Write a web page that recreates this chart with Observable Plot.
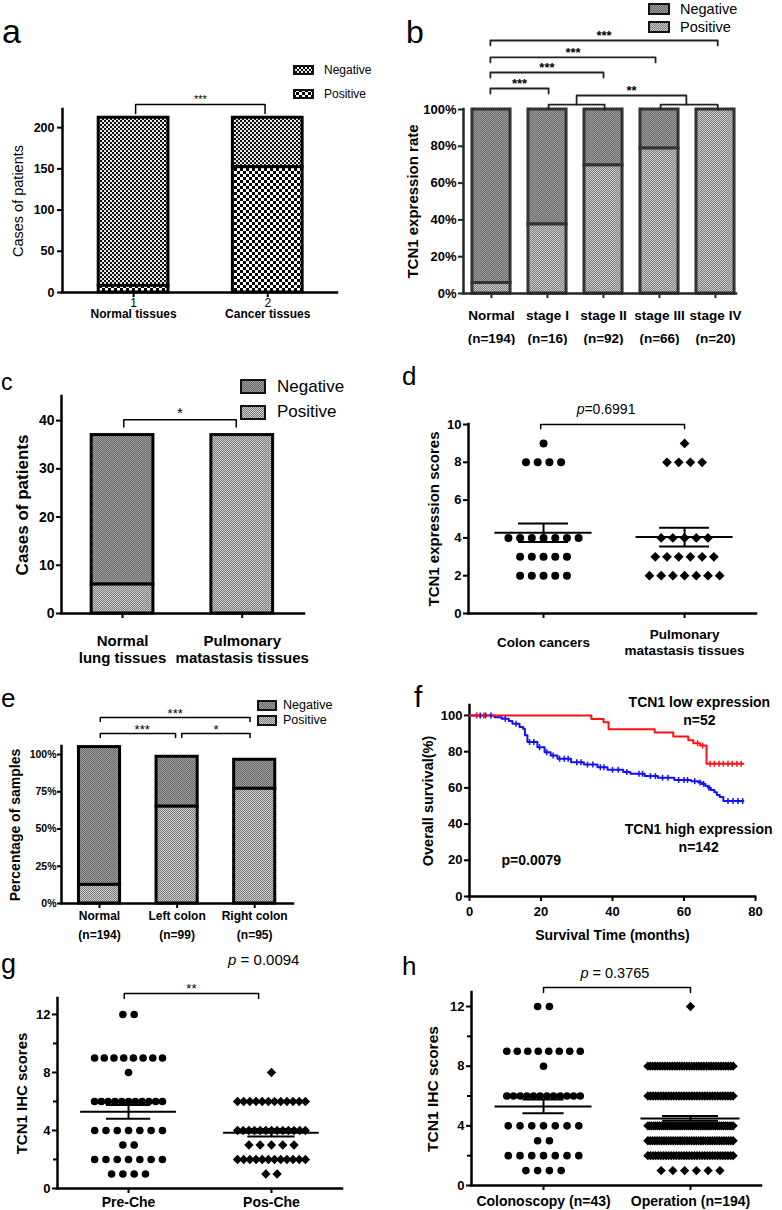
<!DOCTYPE html>
<html><head><meta charset="utf-8">
<script src="https://cdn.jsdelivr.net/npm/d3@7"></script>
<script src="https://cdn.jsdelivr.net/npm/@observablehq/plot@0.6"></script>
<style>
body{margin:0;background:#fff;}
#fig{position:relative;width:782px;height:1210px;overflow:hidden;background:#fff;font-family:"Liberation Sans",Arial,Helvetica,sans-serif;}
.panel{position:absolute;}
.letter{position:absolute;line-height:1;color:#000;font-family:"Liberation Sans",Arial,Helvetica,sans-serif;}
.leg{position:absolute;display:flex;align-items:center;white-space:nowrap;color:#000;font-family:"Liberation Sans",Arial,Helvetica,sans-serif;}
.leg svg{display:block;}
</style></head><body>
<svg width="0" height="0" style="position:absolute">
<defs>
<pattern id="aNeg" patternUnits="userSpaceOnUse" width="4" height="4"><rect width="4" height="4" fill="#e8e8e8"/><rect width="2" height="2" fill="#111"/><rect x="2" y="2" width="2" height="2" fill="#111"/></pattern>
<pattern id="aPos" patternUnits="userSpaceOnUse" width="6" height="6"><rect width="6" height="6" fill="#fff"/><rect width="3" height="3" fill="#000"/><rect x="3" y="3" width="3" height="3" fill="#000"/></pattern>
<pattern id="gNeg" patternUnits="userSpaceOnUse" width="2" height="2"><rect width="2" height="2" fill="#9e9e9e"/><rect width="1" height="1" fill="#6a6a6a"/><rect x="1" y="1" width="1" height="1" fill="#6a6a6a"/></pattern>
<pattern id="gPos" patternUnits="userSpaceOnUse" width="2" height="2"><rect width="2" height="2" fill="#cdcdcd"/><rect width="1" height="1" fill="#7a7a7a"/><rect x="1" y="1" width="1" height="1" fill="#7a7a7a"/></pattern>
</defs></svg>
<div id="fig"></div>
<script>
// ---------------- DATA ----------------
// a
const aCategories = ["Normal tissues", "Cancer tissues"];
const aTickLabels = ["1", "2"];
const aPositive = [8, 152];
const aNegative = [204, 60];
// b
const bCategories = ["Normal", "stage I", "stage II", "stage III", "stage IV"];
const bCounts = ["(n=194)", "(n=16)", "(n=92)", "(n=66)", "(n=20)"];
const bPositive = [5.7, 37.5, 69.6, 78.8, 100];
const bNegative = [94.3, 62.5, 30.4, 21.2, 0];
const bYTicks = [0, 20, 40, 60, 80, 100];
// c
const cCategories = ["Normal\nlung tissues", "Pulmonary\nmatastasis tissues"];
const cPositive = [6, 37];
const cNegative = [31, 0];
const cYTicks = [0, 10, 20, 30, 40];
// d  ([score, number of samples])
const dCategories = ["Colon cancers", "Pulmonary\nmatastasis tissues"];
const dColonCounts = [[9, 1], [8, 4], [4, 7], [3, 5], [2, 5]];
const dPulmonaryCounts = [[9, 1], [8, 4], [4, 5], [3, 6], [2, 7]];
const dYTicks = [0, 2, 4, 6, 8, 10];
// e
const eCategories = ["Normal\n(n=194)", "Left colon\n(n=99)", "Right colon\n(n=95)"];
const ePositive = [12.5, 65, 77];
const eNegative = [92.5, 33.5, 19.5];
const eYTicks = [0, 25, 50, 75, 100];
// f  ([months, survival %])
const fLowCurve = [[0,100],[34.1,98.1],[37.5,96.2],[38.9,92.4],[51.8,90.6],[57,88.4],[61.2,86.3],[62.6,84.6],[64.5,83.4],[66.3,73.3],[76.6,73.3]];
const fHighCurve = [[0,100],[7,99],[9,98.2],[11,96.9],[12,95.4],[14,93.6],[15,92.6],[15.5,89],[16.2,85.3],[19,82.5],[21,79.7],[22.7,77.9],[24.6,76.1],[28.4,74.2],[32,72.9],[35.8,71.4],[38.6,70],[43,68.7],[45,67.8],[49,66.5],[52.7,65.6],[57.3,64.4],[62,63.7],[64,62.9],[65,62.2],[66,61],[66.7,60],[67.5,58.8],[68.5,57.6],[69.2,56],[70,54.9],[71,52.7],[76.6,52.7]];
const fLowCensored = [2, 4, 63.8, 65.2, 67.3, 68.5, 69.8, 71, 72.3, 73.5, 74.8, 76];
const fHighCensored = [3, 4.5, 6, 10, 13, 16.8, 18, 19.6, 21.6, 23.4, 25.2, 26.5, 27.6, 30, 31.2, 33, 34.5, 36.6, 37.6, 40, 41.6, 44, 47.4, 48.4, 50.6, 52, 54, 55.5, 58.5, 60, 61, 63, 64.5, 65.5, 67, 72.3, 73.7, 75.1, 76.4];
const fXTicks = [0, 20, 40, 60, 80];
const fYTicks = [0, 20, 40, 60, 80, 100];
// g
const gCategories = ["Pre-Che", "Pos-Che"];
const gPreCounts = [[12, 2], [9, 8], [8, 1], [6, 11], [4, 7], [3, 2], [2, 7], [1, 4]];
const gPosCounts = [[8, 1], [6, 12], [4, 13], [3, 5], [2, 12], [1, 2]];
// h
const hCategories = ["Colonoscopy (n=43)", "Operation (n=194)"];
const hColonoscopyCounts = [[12, 2], [9, 8], [8, 1], [6, 12], [4, 7], [3, 2], [2, 7], [1, 4]];
const hOperationCounts = [[12, 1], [8, 36], [6, 34], [4, 45], [3, 38], [2, 34], [1, 6]];
const ghYTicks = [0, 4, 8, 12];
const ghMinorTicks = [2, 6, 10];

// ---------------- HELPERS ----------------
const FONT = '"Liberation Sans", Arial, Helvetica, sans-serif';
const fig = document.getElementById("fig");

function place(el, left, top) {
  const d = document.createElement("div");
  d.className = "panel";
  d.style.left = left + "px"; d.style.top = top + "px";
  d.appendChild(el); fig.appendChild(d);
}
function panel({left, top, width, height, frame, xDomain, yDomain, marks}) {
  const [L, R, T, B] = frame;
  const p = Plot.plot({
    width, height,
    marginLeft: L - left, marginRight: left + width - R,
    marginTop: T - top, marginBottom: top + height - B,
    x: {type: "linear", domain: xDomain},
    y: {type: "linear", domain: yDomain},
    style: {fontFamily: FONT, fontSize: "12px", color: "#000", background: "#fff", overflow: "visible"},
    marks
  });
  place(p, left, top);
}
function axisLines(xDomain, yTop, sw, color) {
  return [
    Plot.ruleX([xDomain[0]], {y1: 0, y2: yTop, stroke: color, strokeWidth: sw, strokeLinecap: "square"}),
    Plot.ruleY([0], {x1: xDomain[0], x2: xDomain[1], stroke: color, strokeWidth: sw, strokeLinecap: "square"})
  ];
}
function stackedBars(pos, neg, half, fillPos, fillNeg, stroke, sw) {
  const rows = pos.map((p, i) => ({i: i + 1, pos: p, tot: p + neg[i]}));
  return [
    Plot.rect(rows.filter(d => d.tot > d.pos), {x1: d => d.i - half, x2: d => d.i + half, y1: d => d.pos, y2: d => d.tot, fill: fillNeg, stroke, strokeWidth: sw}),
    Plot.rect(rows.filter(d => d.pos > 0), {x1: d => d.i - half, x2: d => d.i + half, y1: 0, y2: d => d.pos, fill: fillPos, stroke, strokeWidth: sw})
  ];
}
function brackets(list, {stroke = "#000", sw = 1.5, fontSize = 12, fontWeight = "normal", dy = -5} = {}) {
  const pts = list.flatMap((b, k) => [
    {k, x: b.x1, y: b.e1}, {k, x: b.x1, y: b.y}, {k, x: b.x2, y: b.y}, {k, x: b.x2, y: b.e2}
  ]);
  return [
    Plot.line(pts, {x: "x", y: "y", z: "k", stroke, strokeWidth: sw, curve: "linear"}),
    Plot.text(list.filter(b => b.label), {x: b => b.lx ?? (b.x1 + b.x2) / 2, y: "y", text: "label", lineAnchor: "middle", dy, fontSize, fontWeight, fill: "#000"})
  ];
}
function pLabel(x, y, rest, fontSize) {
  return [
    Plot.text([{x, y}], {x: "x", y: "y", text: () => "p", textAnchor: "end", lineAnchor: "middle", fontStyle: "italic", fontSize, fill: "#000"}),
    Plot.text([{x, y}], {x: "x", y: "y", text: () => rest, textAnchor: "start", lineAnchor: "middle", fontSize, fill: "#000"})
  ];
}
function yTitle(title, dx, fontSize, fontWeight) {
  return Plot.text([title], {text: d => d, frameAnchor: "left", dx, rotate: -90, lineAnchor: "middle", textAnchor: "middle", fontSize, fontWeight, fill: "#000"});
}
function xCatLabels(cats, dy, fontSize, fontWeight, lineHeight) {
  return Plot.text(cats, {x: (d, i) => i + 1, text: d => d, frameAnchor: "bottom", dy, lineAnchor: "middle", fontSize, fontWeight, lineHeight, fill: "#000"});
}
function xTicks(n, sw, color) {
  return Plot.axisX({ticks: d3.range(1, n + 1), tickFormat: () => "", tickSize: 5, stroke: color, strokeWidth: sw, label: null});
}
function expand(counts) { const v = []; for (const [val, n] of counts) for (let k = 0; k < n; k++) v.push(val); return v; }
function swarm(counts, gx, spacing, maxWidth) {
  const out = [];
  for (const [v, n] of counts) {
    const s = n > 1 ? Math.min(spacing, maxWidth / (n - 1)) : 0;
    for (let k = 0; k < n; k++) out.push({x: gx + (k - (n - 1) / 2) * s, y: v});
  }
  return out;
}
function meanSem(counts, gx, halfLine, halfCap, sw) {
  const vals = expand(counts);
  const s = [{gx, m: d3.mean(vals), sem: d3.deviation(vals) / Math.sqrt(vals.length)}];
  const o = {stroke: "#000", strokeWidth: sw};
  return [
    Plot.ruleY(s, {y: "m", x1: d => d.gx - halfLine, x2: d => d.gx + halfLine, ...o}),
    Plot.ruleX(s, {x: "gx", y1: d => d.m - d.sem, y2: d => d.m + d.sem, ...o}),
    Plot.ruleY(s, {y: d => d.m + d.sem, x1: d => d.gx - halfCap, x2: d => d.gx + halfCap, ...o}),
    Plot.ruleY(s, {y: d => d.m - d.sem, x1: d => d.gx - halfCap, x2: d => d.gx + halfCap, ...o})
  ];
}
function survAt(curve, t) { let s = curve[0][1]; for (const [tt, v] of curve) if (tt <= t) s = v; return s; }
const censorSymbol = {draw(ctx, size) { const h = Math.sqrt(size / Math.PI); ctx.moveTo(0, -h); ctx.lineTo(0, h); }};
function letter(ch, left, top, size) {
  const d = document.createElement("div"); d.className = "letter";
  d.style.left = left + "px"; d.style.top = top + "px"; d.style.fontSize = size + "px";
  d.textContent = ch; fig.appendChild(d);
}
function legend(items, x, y0, gap, sw, sh, fontSize, textGap) {
  items.forEach(([label, pat], k) => {
    const d = document.createElement("div"); d.className = "leg";
    const cy = y0 + k * gap, hh = Math.max(sh, fontSize * 1.2);
    d.style.left = x + "px"; d.style.top = (cy - hh / 2) + "px"; d.style.height = hh + "px";
    d.style.fontSize = fontSize + "px";
    d.innerHTML = `<svg width="${sw}" height="${sh}"><rect x="1" y="1" width="${sw - 2}" height="${sh - 2}" fill="url(#${pat})" stroke="#111" stroke-width="2"/></svg><span style="margin-left:${textGap}px">${label}</span>`;
    fig.appendChild(d);
  });
}

// ---------------- PANEL a ----------------
{
  const xd = [0.47, 2.52];
  panel({left: 0, top: 0, width: 391, height: 330, frame: [62, 337, 109, 292], xDomain: xd, yDomain: [0, 222], marks: [
    ...stackedBars(aPositive, aNegative, 0.26, "url(#aPos)", "url(#aNeg)", "#000", 3),
    ...axisLines(xd, 222, 2.5, "#000"),
    Plot.axisY({ticks: [0, 50, 100, 150, 200], tickSize: 5, tickPadding: 3, fontWeight: "bold", fontSize: 12.5, strokeWidth: 2, label: null}),
    Plot.axisX({ticks: [1, 2], tickFormat: i => aTickLabels[i - 1], tickSize: 5, tickPadding: 1, fontSize: 12, strokeWidth: 2, label: null}),
    xCatLabels(aCategories, 20.5, 12, "bold", 1.2),
    yTitle("Cases of patients", -44, 14.5, "normal"),
    ...brackets([{x1: 1.015, x2: 1.98, y: 228, e1: 217, e2: 217, label: "***"}], {fontSize: 11, dy: -5})
  ]});
  letter("a", 2, 14, 34);
  legend([["Negative", "aNeg"], ["Positive", "aPos"]], 293, 70, 24, 21, 10, 12, 10);
}

// ---------------- PANEL b ----------------
{
  const xd = [0.5, 5.375];
  const col = "#262626";
  panel({left: 391, top: 0, width: 391, height: 345, frame: [463, 736, 109, 293], xDomain: xd, yDomain: [0, 100], marks: [
    ...stackedBars(bPositive, bNegative, 0.34, "url(#gPos)", "url(#gNeg)", "#333", 3),
    ...axisLines(xd, 100, 2.5, col),
    Plot.axisY({ticks: bYTicks, tickFormat: d => d + "%", tickSize: 5, tickPadding: 2, fontWeight: "bold", fontSize: 13, strokeWidth: 2, stroke: col, label: null}),
    xTicks(5, 2, col),
    xCatLabels(bCategories.map((c, i) => c + "\n" + bCounts[i]), 30.5, 13.5, "bold", 1.75),
    yTitle("TCN1 expression rate", -50, 15, "bold"),
    ...brackets([
      {x1: 0.98, x2: 2.02, y: 111.4, e1: 108.7, e2: 108.7, label: "***"},
      {x1: 0.98, x2: 3.0, y: 120.1, e1: 117.4, e2: 117.4, label: "***"},
      {x1: 0.98, x2: 3.93, y: 128.3, e1: 125.6, e2: 125.6, label: "***"},
      {x1: 0.98, x2: 5.04, y: 137.5, e1: 134.8, e2: 134.8, label: "***"},
      {x1: 2.02, x2: 3.02, y: 102.7, e1: 100, e2: 100, label: ""},
      {x1: 4.02, x2: 5.04, y: 102.7, e1: 100, e2: 100, label: ""},
      {x1: 2.52, x2: 4.48, y: 107.6, e1: 102.7, e2: 102.7, label: "**", lx: 3.5}
    ], {stroke: "#222", sw: 1.8, fontSize: 13, fontWeight: "bold", dy: -5})
  ]});
  letter("b", 406, 16, 32);
  legend([["Negative", "gNeg"], ["Positive", "gPos"]], 648, 8.5, 18.5, 22, 12, 14.5, 10);
}

// ---------------- PANEL c ----------------
{
  const xd = [0.49, 2.52];
  panel({left: 0, top: 345, width: 391, height: 325, frame: [61, 304, 396, 613], xDomain: xd, yDomain: [0, 45], marks: [
    ...stackedBars(cPositive, cNegative, 0.258, "url(#gPos)", "url(#gNeg)", "#000", 3),
    ...axisLines(xd, 45, 2.5, "#000"),
    Plot.axisY({ticks: cYTicks, tickSize: 5, tickPadding: 2, fontWeight: "bold", fontSize: 14, strokeWidth: 2, label: null}),
    xTicks(2, 2, "#000"),
    xCatLabels(cCategories, 35.5, 15, "bold", 1.15),
    yTitle("Cases of patients", -39, 17, "bold"),
    ...brackets([{x1: 1.01, x2: 1.95, y: 40.2, e1: 38.7, e2: 38.7, label: "*"}], {fontSize: 15, dy: -6})
  ]});
  letter("c", 1, 371, 23);
  legend([["Negative", "gNeg"], ["Positive", "gPos"]], 240, 387, 25.5, 26, 15, 17, 11);
}

// ---------------- PANEL d ----------------
{
  const xd = [0.468, 2.51];
  panel({left: 391, top: 345, width: 391, height: 325, frame: [468, 756, 424, 613], xDomain: xd, yDomain: [0, 10], marks: [
    ...axisLines(xd, 10, 2.5, "#000"),
    Plot.axisY({ticks: dYTicks, tickSize: 5, tickPadding: 2, fontWeight: "bold", fontSize: 13, strokeWidth: 2, label: null}),
    xTicks(2, 2, "#000"),
    xCatLabels(dCategories, 28, 13.5, "bold", 1.2),
    yTitle("TCN1 expression scores", -34, 15, "bold"),
    Plot.dot(swarm(dColonCounts, 1, 0.083, 2), {x: "x", y: "y", r: 4, fill: "#000", symbol: "circle"}),
    Plot.dot(swarm(dPulmonaryCounts, 2, 0.083, 2), {x: "x", y: "y", r: 4.4, fill: "#000", symbol: "diamond2"}),
    ...meanSem(dColonCounts, 1, 0.344, 0.177, 2),
    ...meanSem(dPulmonaryCounts, 2, 0.344, 0.177, 2),
    ...brackets([{x1: 0.98, x2: 2.0, y: 10, e1: 9.78, e2: 9.78, label: ""}], {sw: 1.5}),
    ...pLabel(1.29, 10.8, "=0.6991", 14)
  ]});
  letter("d", 402, 363, 26);
}

// ---------------- PANEL e ----------------
{
  const xd = [0.51, 3.5];
  panel({left: 0, top: 670, width: 391, height: 280, frame: [61, 293, 746, 903], xDomain: xd, yDomain: [0, 105.4], marks: [
    ...stackedBars(ePositive, eNegative, 0.265, "url(#gPos)", "url(#gNeg)", "#000", 3),
    ...axisLines(xd, 105.4, 2.5, "#000"),
    Plot.axisY({ticks: eYTicks, tickFormat: d => d + "%", tickSize: 4, tickPadding: 1, fontWeight: "bold", fontSize: 10.5, strokeWidth: 2, label: null}),
    xTicks(3, 2, "#000"),
    xCatLabels(eCategories, 19.5, 12, "bold", 1.6),
    yTitle("Percentage of samples", -46, 14, "bold"),
    ...brackets([
      {x1: 1.01, x2: 2.94, y: 124.8, e1: 122.1, e2: 122.1, label: "***"},
      {x1: 1.01, x2: 1.98, y: 114.1, e1: 111.4, e2: 111.4, label: "***", lx: 1.55},
      {x1: 2.06, x2: 2.94, y: 114.1, e1: 111.4, e2: 111.4, label: "*", lx: 2.5}
    ], {fontSize: 13, dy: -4})
  ]});
  letter("e", 1, 685, 26);
  legend([["Negative", "gNeg"], ["Positive", "gPos"]], 257, 705, 15, 20, 11, 12.5, 6);
}

// ---------------- PANEL f ----------------
{
  const xd = [0, 80];
  const lowC = fLowCensored.map(t => ({t, s: survAt(fLowCurve, t)}));
  const highC = fHighCensored.map(t => ({t, s: survAt(fHighCurve, t)}));
  panel({left: 391, top: 670, width: 391, height: 280, frame: [469, 755, 705, 896], xDomain: xd, yDomain: [0, 105.5], marks: [
    ...axisLines(xd, 105.5, 2.5, "#000"),
    Plot.axisY({ticks: fYTicks, tickSize: 5, tickPadding: 2, fontWeight: "bold", fontSize: 13, strokeWidth: 2, label: null}),
    Plot.axisX({ticks: fXTicks, tickSize: 5, tickPadding: 5, fontWeight: "bold", fontSize: 13, strokeWidth: 2, label: null}),
    Plot.text(["Survival Time (months)"], {text: d => d, frameAnchor: "bottom", dy: 39, lineAnchor: "middle", fontSize: 14, fontWeight: "bold", fill: "#000"}),
    yTitle("Overall survival(%)", -41, 14.5, "bold"),
    Plot.line(fHighCurve, {x: d => d[0], y: d => d[1], curve: "step-after", stroke: "#1010ff", strokeWidth: 2}),
    Plot.line(fLowCurve, {x: d => d[0], y: d => d[1], curve: "step-after", stroke: "#ff1010", strokeWidth: 2}),
    Plot.dot(highC, {x: "t", y: "s", r: 3, symbol: censorSymbol, stroke: "#1010ff", strokeWidth: 1.5, fill: "none"}),
    Plot.dot(lowC, {x: "t", y: "s", r: 3, symbol: censorSymbol, stroke: "#ff1010", strokeWidth: 1.5, fill: "none"}),
    Plot.text([{x: 64.3, y: 107.2, t: "TCN1 low expression"}, {x: 64.3, y: 97.2, t: "n=52"}, {x: 64.1, y: 37, t: "TCN1 high expression"}, {x: 64.1, y: 27.1, t: "n=142"}, {x: 17.3, y: 19.9, t: "p=0.0079"}],
      {x: "x", y: "y", text: "t", lineAnchor: "middle", fontSize: 14, fontWeight: "bold", fill: "#000"})
  ]});
  letter("f", 414, 682, 30);
}

// ---------------- PANEL g ----------------
{
  const xd = [0.503, 2.497];
  panel({left: 0, top: 950, width: 391, height: 260, frame: [57, 342, 998, 1188], xDomain: xd, yDomain: [0, 13.1], marks: [
    ...axisLines(xd, 13.1, 2.5, "#000"),
    Plot.axisY({ticks: ghYTicks, tickSize: 5, tickPadding: 2, fontWeight: "bold", fontSize: 13, strokeWidth: 2, label: null}),
    Plot.axisY({ticks: ghMinorTicks, tickFormat: () => "", tickSize: 4, strokeWidth: 2, label: null}),
    xTicks(2, 2, "#000"),
    xCatLabels(gCategories, 13.5, 14, "bold", 1.2),
    yTitle("TCN1 IHC scores", -35, 15, "bold"),
    Plot.dot(swarm(gPreCounts, 1, 0.079, 0.475), {x: "x", y: "y", r: 3.8, fill: "#000", symbol: "circle"}),
    Plot.dot(swarm(gPosCounts, 2, 0.079, 0.475), {x: "x", y: "y", r: 4.2, fill: "#000", symbol: "diamond2"}),
    ...meanSem(gPreCounts, 1, 0.335, 0.155, 2),
    ...meanSem(gPosCounts, 2, 0.335, 0.165, 2),
    ...brackets([{x1: 0.97, x2: 1.91, y: 13.45, e1: 13.1, e2: 13.1, label: "**"}], {fontSize: 13, dy: -4.5}),
    ...pLabel(1.755, 15.72, "\u00a0=\u00a00.0094", 15)
  ]});
  letter("g", 1, 951, 27);
}

// ---------------- PANEL h ----------------
{
  const xd = [0.51, 2.483];
  panel({left: 391, top: 950, width: 391, height: 260, frame: [471, 761, 992, 1185], xDomain: xd, yDomain: [0, 12.94], marks: [
    ...axisLines(xd, 12.94, 2.5, "#000"),
    Plot.axisY({ticks: ghYTicks, tickSize: 5, tickPadding: 2, fontWeight: "bold", fontSize: 13, strokeWidth: 2, label: null}),
    Plot.axisY({ticks: ghMinorTicks, tickFormat: () => "", tickSize: 4, strokeWidth: 2, label: null}),
    xTicks(2, 2, "#000"),
    xCatLabels(hCategories, 15.5, 14, "bold", 1.2),
    yTitle("TCN1 IHC scores", -38, 15.5, "bold"),
    Plot.dot(swarm(hColonoscopyCounts, 1, 0.08, 0.5), {x: "x", y: "y", r: 3.8, fill: "#000", symbol: "circle"}),
    Plot.dot(swarm(hOperationCounts, 2, 0.08, 0.58), {x: "x", y: "y", r: 4.2, fill: "#000", symbol: "diamond2"}),
    ...meanSem(hColonoscopyCounts, 1, 0.33, 0.14, 2),
    ...meanSem(hOperationCounts, 2, 0.337, 0.19, 2),
    ...brackets([{x1: 1.0, x2: 2.0, y: 13.27, e1: 12.94, e2: 12.94, label: ""}], {sw: 1.5}),
    ...pLabel(1.306, 14.2, "\u00a0=\u00a00.3765", 14.5)
  ]});
  letter("h", 402, 953, 26);
}
</script>
</body></html>
